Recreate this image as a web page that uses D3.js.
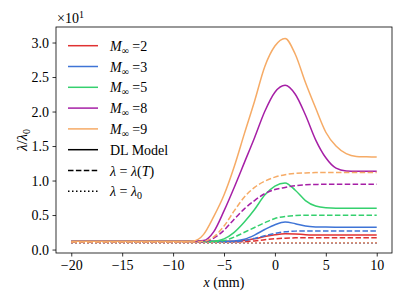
<!DOCTYPE html>
<html>
<head>
<meta charset="utf-8">
<script src="https://cdn.jsdelivr.net/npm/d3@7"></script>
<style>
  body { margin: 0; background: #fff; }
</style>
</head>
<body>
<div id="chart"></div>
<script>
// pick the first serif face the machine really has
function pickFont(names) {
  const ctx = document.createElement('canvas').getContext('2d');
  const probe = 'DL Model 0123 mmWx';
  for (const n of names) {
    ctx.font = '20px monospace';
    const a = ctx.measureText(probe).width;
    ctx.font = `20px "${n}", monospace`;
    const b = ctx.measureText(probe).width;
    if (a !== b) return `"${n}"`;
  }
  return 'serif';
}
const FONT = pickFont(['Liberation Serif', 'DejaVu Serif', 'Times New Roman', 'Noto Serif', 'FreeSerif', 'Tinos']);

// x positions (mm) shared by all series
const xs = [-20, -9, -8, -7, -6, -5, -4, -3, -2, -1, 0, 1, 2, 3, 4, 5, 6, 7, 8, 9, 10];

// lambda / lambda0, DL model (solid)
const dl2 = [1.2, 1.2, 1.2, 1.2, 1.2, 1.2, 1.2, 1.3, 1.55, 1.88, 2.14, 2.28, 2.25, 2.16, 2.12, 2.1, 2.1, 2.1, 2.1, 2.1, 2.1];
const dl3 = [1.2, 1.2, 1.2, 1.2, 1.2, 1.2, 1.25, 1.5, 2.1, 2.9, 3.6, 4.0, 3.75, 3.4, 3.28, 3.25, 3.24, 3.24, 3.24, 3.24, 3.24];
const dl5 = [1.2, 1.2, 1.2, 1.2, 1.22, 1.55, 2.5, 4.0, 5.8, 7.9, 9.2, 9.65, 8.6, 7.1, 6.3, 6.05, 6.0, 6.0, 6.0, 6.0, 6.0];
const dl8 = [1.2, 1.2, 1.2, 1.3, 2.6, 5.6, 9.0, 12.6, 16.2, 20.0, 22.8, 23.8, 22.5, 19.5, 15.9, 13.3, 11.8, 11.4, 11.35, 11.35, 11.35];
const dl9 = [1.2, 1.2, 1.25, 2.2, 4.8, 7.9, 12.0, 16.8, 21.5, 26.5, 29.5, 30.6, 28.3, 24.2, 20.5, 17.0, 15.0, 13.9, 13.5, 13.45, 13.4];

// lambda = lambda(T) (dashed)
const lt2 = [1.1, 1.1, 1.1, 1.1, 1.1, 1.1, 1.1, 1.12, 1.25, 1.42, 1.56, 1.65, 1.7, 1.72, 1.72, 1.72, 1.72, 1.72, 1.72, 1.72, 1.72];
const lt3 = [1.1, 1.1, 1.1, 1.1, 1.1, 1.1, 1.12, 1.3, 1.62, 2.0, 2.35, 2.58, 2.67, 2.7, 2.7, 2.7, 2.7, 2.7, 2.7, 2.7, 2.7];
const lt5 = [1.1, 1.1, 1.1, 1.1, 1.12, 1.3, 1.8, 2.5, 3.2, 3.9, 4.5, 4.8, 4.92, 4.97, 4.98, 4.98, 4.98, 4.98, 4.98, 4.98, 4.98];
const lt8 = [1.1, 1.1, 1.1, 1.15, 1.65, 2.8, 4.4, 5.9, 7.1, 8.1, 8.7, 9.0, 9.25, 9.38, 9.43, 9.47, 9.47, 9.47, 9.47, 9.47, 9.47];
const lt9 = [1.1, 1.1, 1.1, 1.2, 1.85, 3.4, 5.6, 7.6, 9.0, 9.9, 10.5, 10.85, 11.05, 11.1, 11.15, 11.15, 11.15, 11.15, 11.15, 11.15, 11.15];

// lambda = lambda0 (dotted), same for every Mach number
const l0 = [1.0, 1.0, 1.0, 1.0, 1.0, 1.0, 1.0, 1.0, 1.0, 1.0, 1.0, 1.0, 1.0, 1.0, 1.0, 1.0, 1.0, 1.0, 1.0, 1.0, 1.0];

const machs = ['2', '3', '5', '8', '9'];
const colors = ['#e03232', '#3f74d6', '#35d06e', '#a61fa6', '#f6ab66'];
const dlSeries = [dl2, dl3, dl5, dl8, dl9];
const ltSeries = [lt2, lt3, lt5, lt8, lt9];

const xTicks = [-20, -15, -10, -5, 0, 5, 10];
const yTicks = [0, 5, 10, 15, 20, 25, 30];

const W = 407, H = 305;
const margin = { top: 27, right: 15, bottom: 52, left: 56 };

const svg = d3.select('#chart')
  .append('svg')
  .attr('width', W)
  .attr('height', H)
  .style('font-family', FONT);

const x = d3.scaleLinear()
  .domain([-21.5, 11.5])
  .range([margin.left, W - margin.right]);

const y = d3.scaleLinear()
  .domain([-0.5, 32.25])
  .range([H - margin.bottom, margin.top]);

const line = d3.line()
  .x((d, i) => x(xs[i]))
  .y(d => y(d))
  .curve(d3.curveMonotoneX);

const plot = svg.append('g');

// one group per Mach number: solid, dashed, dotted
machs.forEach((m, k) => {
  plot.append('path')
    .attr('d', line(dlSeries[k]))
    .attr('fill', 'none')
    .attr('stroke', colors[k])
    .attr('stroke-width', 1.5);
  plot.append('path')
    .attr('d', line(ltSeries[k]))
    .attr('fill', 'none')
    .attr('stroke', colors[k])
    .attr('stroke-width', 1.5)
    .attr('stroke-dasharray', '5.5,2.4');
  plot.append('path')
    .attr('d', line(l0))
    .attr('fill', 'none')
    .attr('stroke', colors[k])
    .attr('stroke-width', 1.5)
    .attr('stroke-dasharray', '1.5,2.5');
});

// axes
const xAxis = svg.append('g')
  .attr('transform', `translate(0,${H - margin.bottom})`)
  .call(d3.axisBottom(x).tickValues(xTicks).tickSize(3.5).tickPadding(3.5)
    .tickFormat(d => d < 0 ? '\u2212' + Math.abs(d) : d));

const yAxis = svg.append('g')
  .attr('transform', `translate(${margin.left},0)`)
  .call(d3.axisLeft(y).tickValues(yTicks).tickSize(3.5).tickPadding(3.5)
    .tickFormat(d => (d / 10).toFixed(1)));

[xAxis, yAxis].forEach(a => {
  a.attr('font-family', null);
  a.select('.domain').remove();
  a.selectAll('.tick line').attr('stroke', '#000').attr('stroke-width', 0.8);
  a.selectAll('.tick text')
    .style('font-family', FONT)
    .style('font-size', '14px')
    .attr('fill', '#000');
});

// frame
svg.append('rect')
  .attr('x', margin.left)
  .attr('y', margin.top)
  .attr('width', W - margin.left - margin.right)
  .attr('height', H - margin.top - margin.bottom)
  .attr('fill', 'none')
  .attr('stroke', '#000')
  .attr('stroke-width', 0.8);

function addText(parent, px, py, size) {
  return parent.append('text')
    .attr('x', px)
    .attr('y', py)
    .style('font-family', FONT)
    .style('font-size', size + 'px');
}

// offset text
const off = addText(svg, margin.left + 1, 23, 14);
off.append('tspan').text('\u00d710');
off.append('tspan').attr('dy', -5).style('font-size', '10px').text('1');

// axis labels
const xl = addText(svg, (margin.left + W - margin.right) / 2, 287, 14)
  .attr('text-anchor', 'middle');
xl.append('tspan').style('font-style', 'italic').text('x');
xl.append('tspan').text(' (mm)');

const yl = addText(svg, 0, 0, 15)
  .attr('transform', `translate(27,${(margin.top + H - margin.bottom) / 2}) rotate(-90)`)
  .attr('text-anchor', 'middle');
yl.append('tspan').style('font-style', 'italic').text('\u03bb');
yl.append('tspan').text('/');
yl.append('tspan').style('font-style', 'italic').text('\u03bb');
yl.append('tspan').attr('dy', 3).style('font-size', '10px').text('0');

// legend
const legend = svg.append('g');
const rowH = 20.8;
const lx0 = 68, lx1 = 98, tx = 110, ly0 = 45.7;

machs.forEach((m, k) => {
  const ly = ly0 + k * rowH;
  legend.append('line')
    .attr('x1', lx0).attr('x2', lx1).attr('y1', ly).attr('y2', ly)
    .attr('stroke', colors[k]).attr('stroke-width', 1.5);
  const t = addText(legend, tx, ly + 5, 14);
  t.append('tspan').style('font-style', 'italic').text('M');
  t.append('tspan').attr('dy', 3).style('font-size', '10px').text('\u221e');
  t.append('tspan').attr('dy', -3).text(' =' + m);
});

const styles = [null, '5.5,2.4', '1.5,2.5'];
styles.forEach((s, k) => {
  const ly = ly0 + (k + 5) * rowH;
  legend.append('line')
    .attr('x1', lx0).attr('x2', lx1).attr('y1', ly).attr('y2', ly)
    .attr('stroke', '#000').attr('stroke-width', 1.5)
    .attr('stroke-dasharray', s);
});

addText(legend, tx, ly0 + 5 * rowH + 5, 14).text('DL Model');

const t2 = addText(legend, tx, ly0 + 6 * rowH + 5, 14);
t2.append('tspan').style('font-style', 'italic').text('\u03bb');
t2.append('tspan').text(' = ');
t2.append('tspan').style('font-style', 'italic').text('\u03bb');
t2.append('tspan').text('(');
t2.append('tspan').style('font-style', 'italic').text('T');
t2.append('tspan').text(')');

const t3 = addText(legend, tx, ly0 + 7 * rowH + 5, 14);
t3.append('tspan').style('font-style', 'italic').text('\u03bb');
t3.append('tspan').text(' = ');
t3.append('tspan').style('font-style', 'italic').text('\u03bb');
t3.append('tspan').attr('dy', 3).style('font-size', '10px').text('0');
</script>
</body>
</html>
